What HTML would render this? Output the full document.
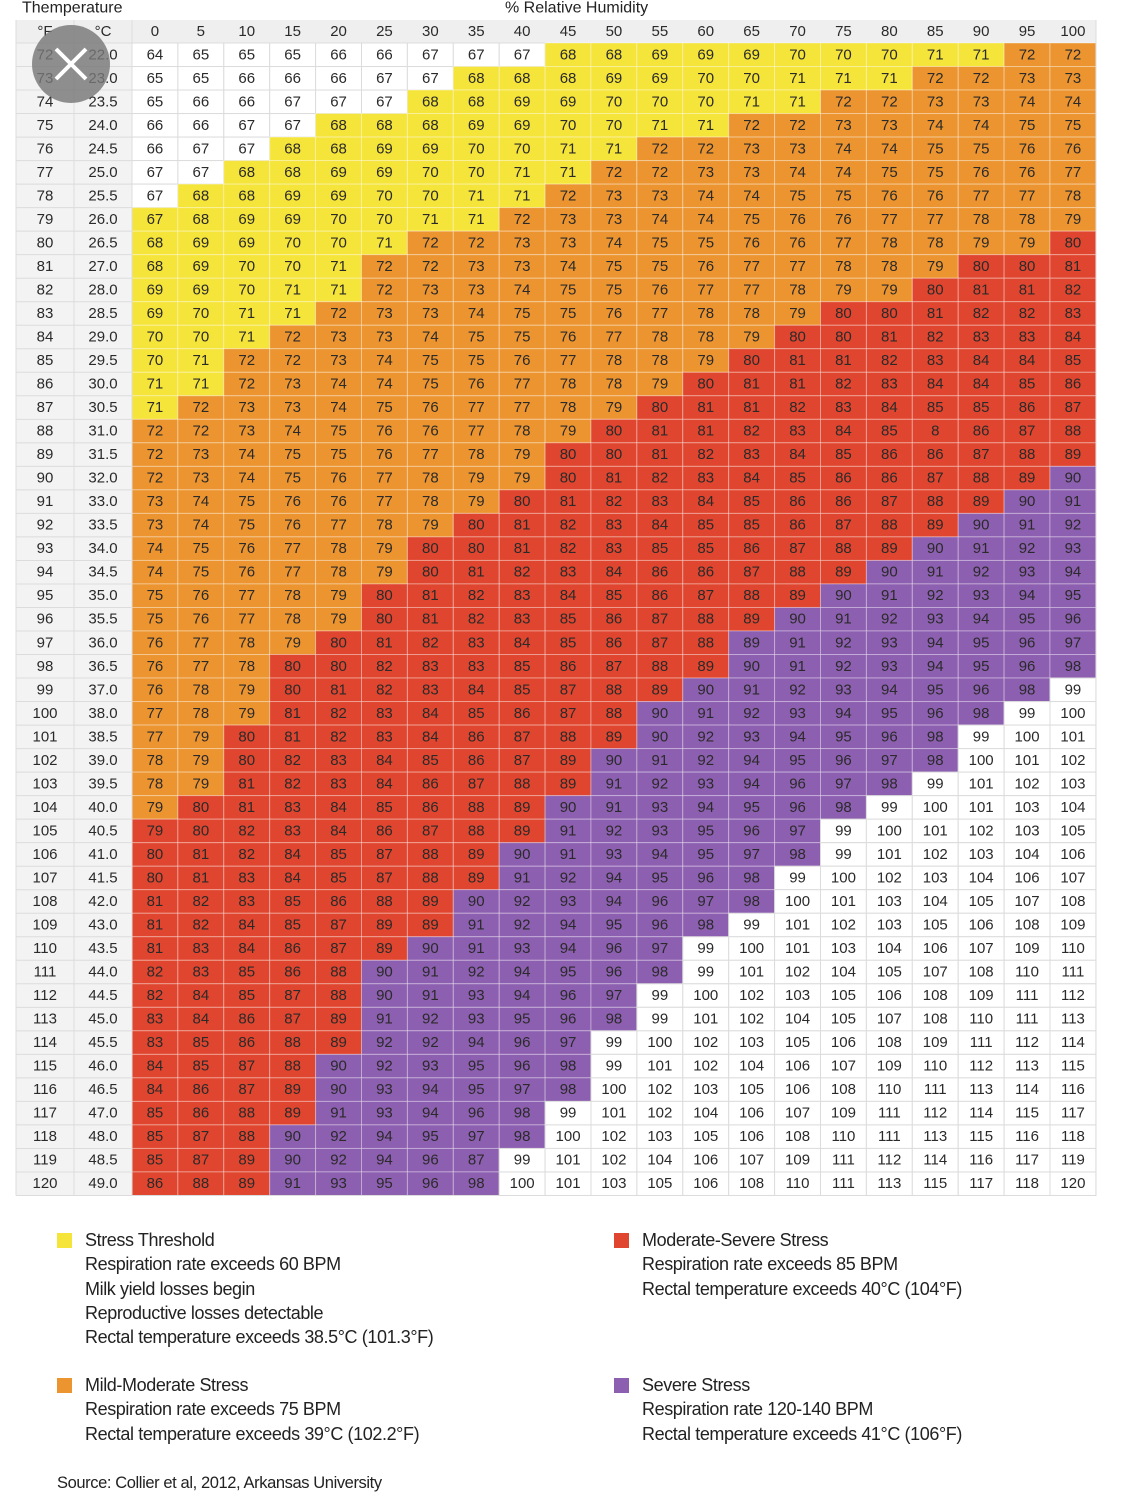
<!DOCTYPE html>
<html><head><meta charset="utf-8">
<style>
html,body{margin:0;padding:0;background:#fff;}
body{width:1125px;height:1509px;position:relative;overflow:hidden;font-family:"Liberation Sans",sans-serif;color:#222;}
.lg{position:absolute;font-size:18px;line-height:24.3px;letter-spacing:-0.4px;color:#222;}
.sq{position:absolute;width:15px;height:15px;}
</style></head>
<body>
<svg id="chart" width="1125" height="1200" style="position:absolute;left:0;top:0"></svg>

<div class="sq" style="left:57px;top:1233px;background:#f5e43a"></div>
<div class="lg" style="left:85px;top:1228px">Stress Threshold<br>Respiration rate exceeds 60 BPM<br>Milk yield losses begin<br>Reproductive losses detectable<br>Rectal temperature exceeds 38.5°C (101.3°F)</div>

<div class="sq" style="left:614px;top:1233px;background:#e0462f"></div>
<div class="lg" style="left:642px;top:1228px">Moderate-Severe Stress<br>Respiration rate exceeds 85 BPM<br>Rectal temperature exceeds 40°C (104°F)</div>

<div class="sq" style="left:57px;top:1378px;background:#ec9530"></div>
<div class="lg" style="left:85px;top:1373px">Mild-Moderate Stress<br>Respiration rate exceeds 75 BPM<br>Rectal temperature exceeds 39°C (102.2°F)</div>

<div class="sq" style="left:614px;top:1378px;background:#8d5fb0"></div>
<div class="lg" style="left:642px;top:1373px">Severe Stress<br>Respiration rate 120-140 BPM<br>Rectal temperature exceeds 41°C (106°F)</div>

<div class="lg" style="left:57px;top:1471px;font-size:16.5px">Source: Collier et al, 2012, Arkansas University</div>

<script>
const humidity = [0,5,10,15,20,25,30,35,40,45,50,55,60,65,70,75,80,85,90,95,100];
const tempF = [];
for (let t = 72; t <= 120; t++) tempF.push(t);
const tempC = ["22.0","23.0","23.5","24.0","24.5","25.0","25.5","26.0","26.5","27.0","28.0","28.5","29.0","29.5","30.0","30.5","31.0","31.5","32.0","33.0","33.5","34.0","34.5","35.0","35.5","36.0","36.5","37.0","38.0","38.5","39.0","39.5","40.0","40.5","41.0","41.5","42.0","43.0","43.5","44.0","44.5","45.0","45.5","46.0","46.5","47.0","48.0","48.5","49.0"];
const thiValues = [
[64,65,65,65,66,66,67,67,67,68,68,69,69,69,70,70,70,71,71,72,72],
[65,65,66,66,66,67,67,68,68,68,69,69,70,70,71,71,71,72,72,73,73],
[65,66,66,67,67,67,68,68,69,69,70,70,70,71,71,72,72,73,73,74,74],
[66,66,67,67,68,68,68,69,69,70,70,71,71,72,72,73,73,74,74,75,75],
[66,67,67,68,68,69,69,70,70,71,71,72,72,73,73,74,74,75,75,76,76],
[67,67,68,68,69,69,70,70,71,71,72,72,73,73,74,74,75,75,76,76,77],
[67,68,68,69,69,70,70,71,71,72,73,73,74,74,75,75,76,76,77,77,78],
[67,68,69,69,70,70,71,71,72,73,73,74,74,75,76,76,77,77,78,78,79],
[68,69,69,70,70,71,72,72,73,73,74,75,75,76,76,77,78,78,79,79,80],
[68,69,70,70,71,72,72,73,73,74,75,75,76,77,77,78,78,79,80,80,81],
[69,69,70,71,71,72,73,73,74,75,75,76,77,77,78,79,79,80,81,81,82],
[69,70,71,71,72,73,73,74,75,75,76,77,78,78,79,80,80,81,82,82,83],
[70,70,71,72,73,73,74,75,75,76,77,78,78,79,80,80,81,82,83,83,84],
[70,71,72,72,73,74,75,75,76,77,78,78,79,80,81,81,82,83,84,84,85],
[71,71,72,73,74,74,75,76,77,78,78,79,80,81,81,82,83,84,84,85,86],
[71,72,73,73,74,75,76,77,77,78,79,80,81,81,82,83,84,85,85,86,87],
[72,72,73,74,75,76,76,77,78,79,80,81,81,82,83,84,85,8,86,87,88],
[72,73,74,75,75,76,77,78,79,80,80,81,82,83,84,85,86,86,87,88,89],
[72,73,74,75,76,77,78,79,79,80,81,82,83,84,85,86,86,87,88,89,90],
[73,74,75,76,76,77,78,79,80,81,82,83,84,85,86,86,87,88,89,90,91],
[73,74,75,76,77,78,79,80,81,82,83,84,85,85,86,87,88,89,90,91,92],
[74,75,76,77,78,79,80,80,81,82,83,85,85,86,87,88,89,90,91,92,93],
[74,75,76,77,78,79,80,81,82,83,84,86,86,87,88,89,90,91,92,93,94],
[75,76,77,78,79,80,81,82,83,84,85,86,87,88,89,90,91,92,93,94,95],
[75,76,77,78,79,80,81,82,83,85,86,87,88,89,90,91,92,93,94,95,96],
[76,77,78,79,80,81,82,83,84,85,86,87,88,89,91,92,93,94,95,96,97],
[76,77,78,80,80,82,83,83,85,86,87,88,89,90,91,92,93,94,95,96,98],
[76,78,79,80,81,82,83,84,85,87,88,89,90,91,92,93,94,95,96,98,99],
[77,78,79,81,82,83,84,85,86,87,88,90,91,92,93,94,95,96,98,99,100],
[77,79,80,81,82,83,84,86,87,88,89,90,92,93,94,95,96,98,99,100,101],
[78,79,80,82,83,84,85,86,87,89,90,91,92,94,95,96,97,98,100,101,102],
[78,79,81,82,83,84,86,87,88,89,91,92,93,94,96,97,98,99,101,102,103],
[79,80,81,83,84,85,86,88,89,90,91,93,94,95,96,98,99,100,101,103,104],
[79,80,82,83,84,86,87,88,89,91,92,93,95,96,97,99,100,101,102,103,105],
[80,81,82,84,85,87,88,89,90,91,93,94,95,97,98,99,101,102,103,104,106],
[80,81,83,84,85,87,88,89,91,92,94,95,96,98,99,100,102,103,104,106,107],
[81,82,83,85,86,88,89,90,92,93,94,96,97,98,100,101,103,104,105,107,108],
[81,82,84,85,87,89,89,91,92,94,95,96,98,99,101,102,103,105,106,108,109],
[81,83,84,86,87,89,90,91,93,94,96,97,99,100,101,103,104,106,107,109,110],
[82,83,85,86,88,90,91,92,94,95,96,98,99,101,102,104,105,107,108,110,111],
[82,84,85,87,88,90,91,93,94,96,97,99,100,102,103,105,106,108,109,111,112],
[83,84,86,87,89,91,92,93,95,96,98,99,101,102,104,105,107,108,110,111,113],
[83,85,86,88,89,92,92,94,96,97,99,100,102,103,105,106,108,109,111,112,114],
[84,85,87,88,90,92,93,95,96,98,99,101,102,104,106,107,109,110,112,113,115],
[84,86,87,89,90,93,94,95,97,98,100,102,103,105,106,108,110,111,113,114,116],
[85,86,88,89,91,93,94,96,98,99,101,102,104,106,107,109,111,112,114,115,117],
[85,87,88,90,92,94,95,97,98,100,102,103,105,106,108,110,111,113,115,116,118],
[85,87,89,90,92,94,96,87,99,101,102,104,106,107,109,111,112,114,116,117,119],
[86,88,89,91,93,95,96,98,100,101,103,105,106,108,110,111,113,115,117,118,120]
];
// cells whose color in the source does not follow the value thresholds: [rowTempF, humidity, zone]
const colorOverrides = [[79,0,"yellow"],[88,85,"red"],[97,65,"purple"],[105,0,"red"],[119,35,"purple"]];

const NS = "http://www.w3.org/2000/svg";
const svg = document.getElementById('chart');
const X0 = 132, CW = 45.9, Y0 = 43, RH = 23.52, HY = 20;
const colX = i => X0 + i * CW;
const rowY = r => Y0 + r * RH;
const palette = {white:"#ffffff", yellow:"#f5e43a", orange:"#ec9530", red:"#e0462f", purple:"#8d5fb0"};
function zone(v){
  if (v < 68) return "white";
  if (v < 72) return "yellow";
  if (v < 80) return "orange";
  if (v < 90) return "red";
  if (v < 99) return "purple";
  return "white";
}
function mk(tag, attrs, txt){
  const e = document.createElementNS(NS, tag);
  for (const k in attrs) e.setAttribute(k, attrs[k]);
  if (txt !== undefined) e.textContent = txt;
  svg.appendChild(e);
  return e;
}
function txt(x, y, s, size, weight){
  return mk('text', {x:x, y:y, 'text-anchor':'middle', 'dominant-baseline':'central', 'font-family':'"Liberation Sans", sans-serif', 'font-size':size||15, 'font-weight':weight||'normal', fill:'#2a2a2a'}, s);
}

let t1 = mk('text', {x:22, y:8, 'dominant-baseline':'central', 'font-family':'"Liberation Sans", sans-serif', 'font-size':16, fill:'#222'}, 'Themperature');


let t2 = mk('text', {x:505, y:8, 'dominant-baseline':'central', 'font-family':'"Liberation Sans", sans-serif', 'font-size':16, fill:'#222'}, '% Relative Humidity');



let hb = mk('rect', {x:16, y:HY, width:1080, height:Y0-HY, fill:'#efefef'});


let fb = mk('rect', {x:16, y:Y0, width:X0-16, height:RH*tempF.length, fill:'#f3f3f3'});



let hf = txt(45, (HY+Y0)/2, '°F');


let hc = txt(103, (HY+Y0)/2, '°C');


humidity.forEach((h, i) => {
  const e = txt(colX(i) + CW/2, (HY+Y0)/2, String(h));
  
  
});

tempF.forEach((f, r) => {
  const y = rowY(r);
  const a = txt(45, y + RH/2, String(f));
  
  
  const b = txt(103, y + RH/2, tempC[r]);
  
  
  thiValues[r].forEach((v, i) => {
    let z = zone(v);
    colorOverrides.forEach(o => { if (o[0] === f && o[1] === humidity[i]) z = o[2]; });
    const c = mk('rect', {x:colX(i), y:y, width:CW, height:RH, fill:palette[z], stroke: z === 'white' ? '#dcdcdc' : 'rgba(255,255,255,0.35)', 'stroke-width':1});
    
    
    const tt = txt(colX(i) + CW/2, y + RH/2, String(v));
    
    
  });
  const ln = mk('line', {x1:16, x2:X0, y1:y, y2:y, stroke:'#dcdcdc', 'stroke-width':1});
  
  
});
[16, 74, X0, 1096].forEach(x => {
  const l = mk('line', {x1:x, x2:x, y1:HY, y2:rowY(tempF.length), stroke:'#dcdcdc', 'stroke-width':1});
  
  
});
const bl = mk('line', {x1:16, x2:1096, y1:rowY(tempF.length), y2:rowY(tempF.length), stroke:'#dcdcdc', 'stroke-width':1});



const circ = mk('circle', {cx:71, cy:64, r:39, fill:'rgba(120,120,120,0.82)'});


const x1 = mk('path', {d:'M56 49 L86 79 M86 49 L56 79', stroke:'#fff', 'stroke-width':4, fill:'none'});


</script>
</body></html>
